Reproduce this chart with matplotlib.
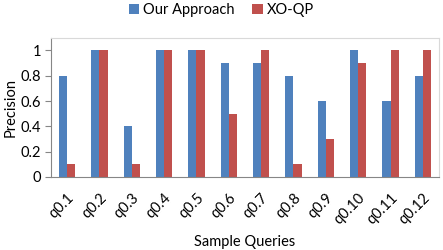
import numpy as np
import matplotlib.pyplot as plt

queries = ['q0.1', 'q0.2', 'q0.3', 'q0.4', 'q0.5', 'q0.6',
           'q0.7', 'q0.8', 'q0.9', 'q0.10', 'q0.11', 'q0.12']
our_approach = [0.8, 1, 0.4, 1, 1, 0.9, 0.9, 0.8, 0.6, 1, 0.6, 0.8]
xo_qp = [0.1, 1, 0.1, 1, 1, 0.5, 1, 0.1, 0.3, 0.9, 1, 1]

plt.rcParams['font.family'] = ['Lato', 'DejaVu Sans']

fig = plt.figure(figsize=(4.43, 2.5), dpi=100)
ax = fig.add_axes([0.115, 0.292, 0.876, 0.557])

x = np.arange(len(queries))
w = 0.25
ax.bar(x - w / 2, our_approach, w, color='#4F81BD', label='Our Approach')
ax.bar(x + w / 2, xo_qp, w, color='#C0504D', label='XO-QP')

ax.set_xlim(-0.5, len(queries) - 0.5)
ax.set_ylim(0, 1.1)
ax.set_yticks([0, 0.2, 0.4, 0.6, 0.8, 1])
ax.set_yticklabels(['0', '0.2', '0.4', '0.6', '0.8', '1'], fontsize=10.5)
ax.set_xticks(x)
ax.set_xticklabels(queries, rotation=45, ha='right', rotation_mode='anchor', fontsize=10.5)
ax.tick_params(axis='x', length=0, pad=10)
ax.tick_params(axis='y', length=4, color='#868686', pad=3)

for s in ['top', 'right']:
    ax.spines[s].set_color('#D9D9D9')
for s in ['left', 'bottom']:
    ax.spines[s].set_color('#868686')

ax.set_xlabel('Sample Queries', fontsize=10.5, labelpad=6)
ax.set_ylabel('Precision', fontsize=10.5, labelpad=2)

fig.legend(loc='upper center', bbox_to_anchor=(0.5, 1.04), ncol=2, frameon=False,
           fontsize=10.5, handlelength=0.7, handleheight=0.7, handletextpad=0.3,
           columnspacing=1.2)

fig.savefig('out.png', dpi=100)
